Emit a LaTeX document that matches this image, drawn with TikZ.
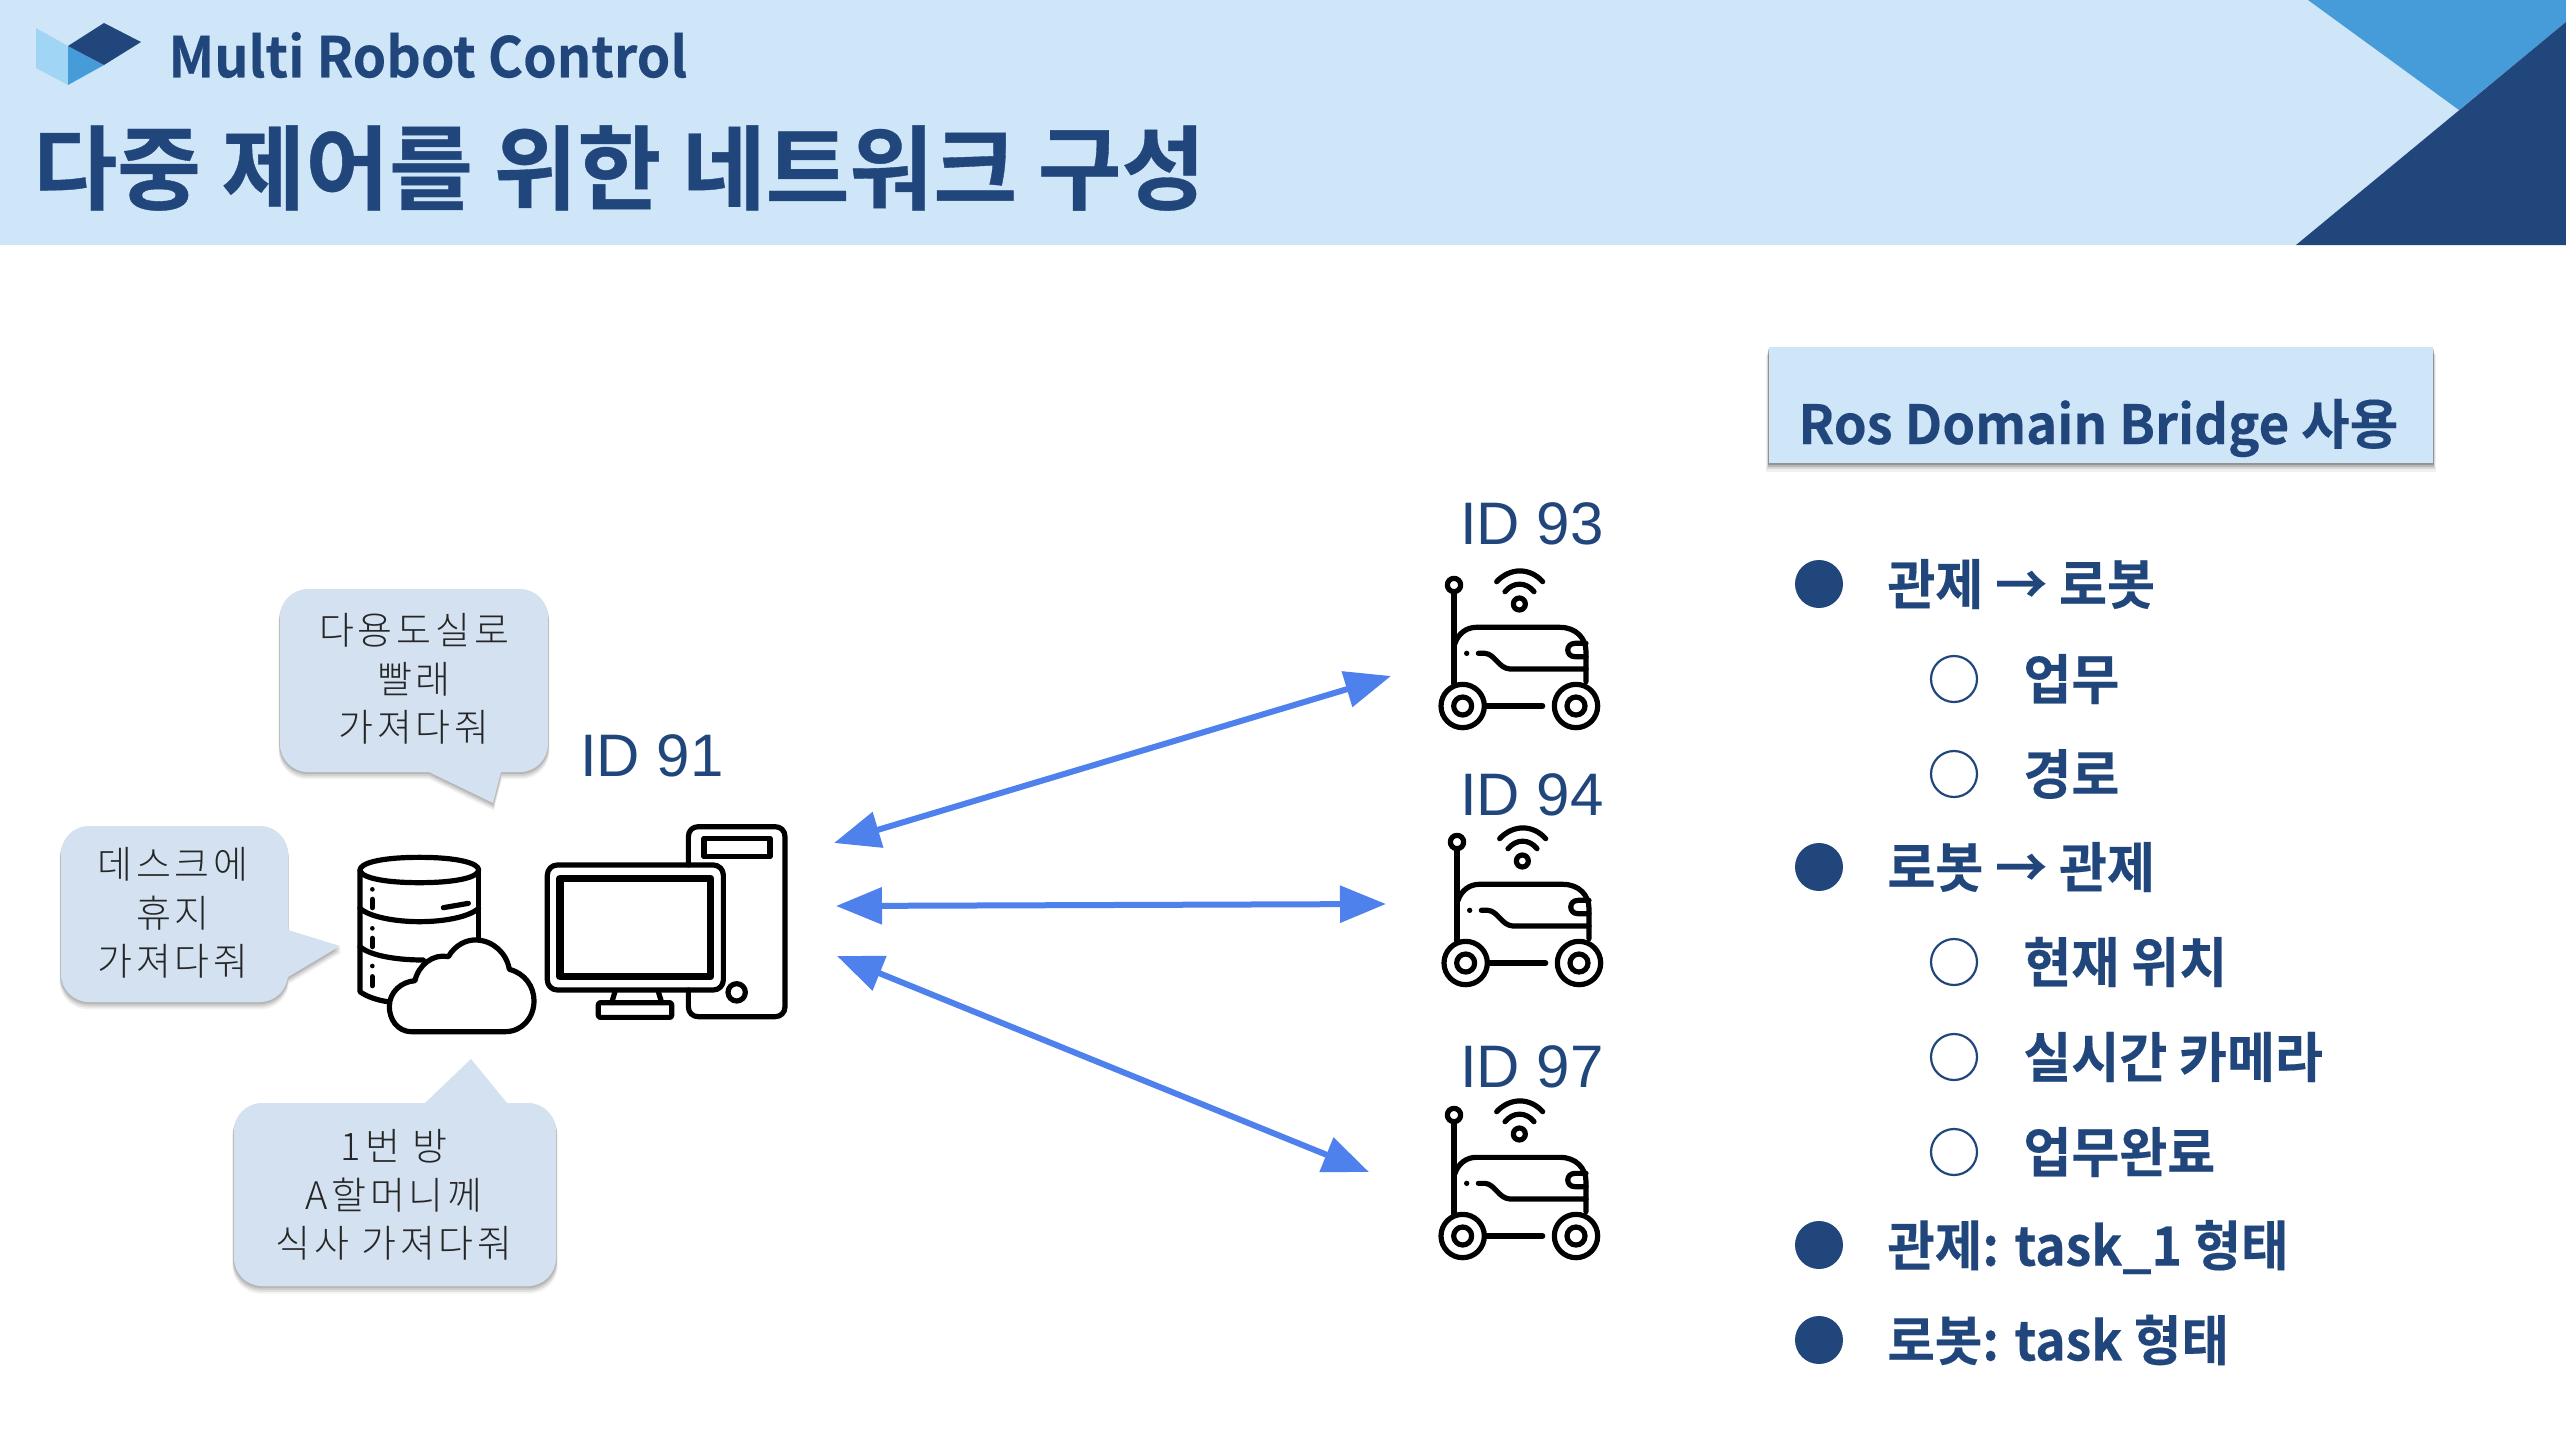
\documentclass[tikz,border=0pt]{standalone}
\usepackage{fontspec}
\usetikzlibrary{arrows.meta,shadows}
\setmainfont{Noto Sans CJK KR}
\newfontfamily\bubfont[LetterSpace=10]{Noto Sans CJK KR Light}
\newfontfamily\idfont{Liberation Sans}
\newfontfamily\subfont[FakeStretch=0.96,FakeBold=0.25]{Noto Sans CJK KR Bold}
\newfontfamily\titlefont[FakeStretch=0.99,FakeBold=0.4]{Noto Sans CJK KR Bold}
\newfontfamily\rosfont[FakeStretch=0.977,FakeBold=0.25]{Noto Sans CJK KR Bold}
\newfontfamily\itemfont[FakeStretch=0.965,FakeBold=0.3]{Noto Sans CJK KR Bold}
\newfontfamily\mixfont[FakeStretch=0.955,FakeBold=0.3]{Noto Sans CJK KR Bold}
\definecolor{hdrbg}{HTML}{CFE6F9}
\definecolor{navy}{HTML}{21467C}
\definecolor{midblue}{HTML}{469CD8}
\definecolor{lightblue}{HTML}{A0D5F5}
\definecolor{bubblefill}{HTML}{D3E1F1}
\definecolor{arrowblue}{HTML}{4F81EC}
\tikzset{
  px/.style={x=0.5pt,y=-0.5pt},
  icon/.style={x=0.16667pt,y=-0.16667pt,line width=2.6pt,draw=black,line cap=round,line join=round},
  softshadow/.style={drop shadow={shadow xshift=0pt,shadow yshift=-0.8pt,shadow scale=1.004,opacity=.10,fill=black},
                     drop shadow={shadow xshift=0pt,shadow yshift=-1.6pt,shadow scale=1.006,opacity=.09,fill=black},
                     drop shadow={shadow xshift=0pt,shadow yshift=-2.4pt,shadow scale=1.008,opacity=.07,fill=black},
                     drop shadow={shadow xshift=0pt,shadow yshift=-3.2pt,shadow scale=1.01,opacity=.05,fill=black}},
  boxshadow/.style={drop shadow={shadow xshift=0pt,shadow yshift=-1.0pt,shadow scale=1.002,opacity=.20,fill=black},
                    drop shadow={shadow xshift=0pt,shadow yshift=-2.0pt,shadow scale=1.004,opacity=.14,fill=black},
                    drop shadow={shadow xshift=0pt,shadow yshift=-3.0pt,shadow scale=1.006,opacity=.10,fill=black},
                    drop shadow={shadow xshift=0pt,shadow yshift=-4.0pt,shadow scale=1.008,opacity=.06,fill=black}},
  bubble/.style={fill=bubblefill,softshadow},
  bubbletext/.style={align=center,font=\bubfont\fontsize{19}{24.2}\selectfont,text=black!85,inner sep=0pt},
  idlabel/.style={font=\idfont\fontsize{30}{36}\selectfont,text=navy,inner sep=0pt},
  itemtext/.style={anchor=west,font=\itemfont\fontsize{27}{32}\selectfont,text=navy,inner sep=0pt},
  mixtext/.style={itemtext,font=\mixfont\fontsize{27}{32}\selectfont},
  dotmark/.style={fill=navy},
  ringmark/.style={draw=navy,line width=1.1pt,fill=white},
  link/.style={draw=arrowblue,line width=3pt,{Triangle[length=23pt,width=18pt,fill=arrowblue]}-{Triangle[length=23pt,width=18pt,fill=arrowblue]}},
  robot/.pic={
    \begin{scope}[icon]
      \draw (162,335) -- (162,612);
      \draw (162,315) circle (20);
      \draw (358,372) circle (18);
      \draw (315,335) .. controls (340,305) and (378,305) .. (402,335);
      \draw (290,305) .. controls (330,262) and (390,262) .. (428,305);
      \draw (165,490) .. controls (175,460) and (200,442) .. (228,442) -- (480,442) .. controls (528,442) and (558,475) .. (558,515) -- (558,605);
      \draw (558,490) -- (525,490) .. controls (496,490) and (496,530) .. (525,530) -- (558,530);
      \fill (200,520) circle (8);
      \draw (235,520) -- (255,520) .. controls (285,522) and (295,565) .. (330,567) -- (558,567);
      \draw (188,678) circle (65);
      \draw (188,678) circle (27);
      \draw (528,678) circle (65);
      \draw (528,678) circle (27);
      \draw (258,678) -- (428,678);
    \end{scope}
  }
}
\begin{document}
\begin{tikzpicture}[px]
\useasboundingbox (0,0) rectangle (2566,1430);
\fill[white] (0,0) rectangle (2566,1430);
% header
\fill[hdrbg] (0,0) rectangle (2566,245);
\fill[midblue] (2308,0) -- (2566,0) -- (2566,22) -- (2459,110) -- cycle;
\fill[navy] (2296,245) -- (2566,245) -- (2566,22) -- cycle;
\fill[lightblue] (36,28) -- (68,46) -- (68,85) -- (36,68) -- cycle;
\fill[midblue] (68,46) -- (104,65) -- (68,85) -- cycle;
\fill[navy] (104,23) -- (141,42) -- (104,65) -- (68,46) -- cycle;
\node[anchor=west,inner sep=0pt,text=navy,font=\subfont\fontsize{28}{32}\selectfont] (sub) at (168,55) {Multi Robot Control};
\node[anchor=west,inner sep=0pt,text=navy,font=\titlefont\fontsize{46}{52}\selectfont] (title) at (33,168) {다중 제어를 위한 네트워크 구성};
% bubbles
\path[bubble,rounded corners=14pt] (280,589) -- (548,589) -- (548,772) [sharp corners] -- (501,772) -- (493,803) -- (429,772) [rounded corners=14pt] -- (280,772) -- cycle;
\path[bubble,rounded corners=14pt] (61,826) -- (288,826) [sharp corners] -- (288,930) -- (340,946) -- (288,977) [rounded corners=14pt] -- (288,1002) -- (61,1002) -- cycle;
\path[bubble,rounded corners=14pt] (234,1286) -- (234,1103) [sharp corners] -- (425,1103) -- (471,1059) -- (507,1103) [rounded corners=14pt] -- (556,1103) -- (556,1286) -- cycle;
\node[bubbletext] (b1) at (414,679) {다용도실로\\빨래\\가져다줘};
\node[bubbletext] (b2) at (173,913) {데스크에\\휴지\\가져다줘};
\node[bubbletext] (b3) at (394,1195) {1번 방\\A할머니께\\식사 가져다줘};
% id labels
\node[idlabel] (id91) at (652,756) {ID 91};
\node[idlabel] (id93) at (1532,524) {ID 93};
\node[idlabel] (id94) at (1532,795) {ID 94};
\node[idlabel] (id97) at (1532,1067) {ID 97};
% server + pc
\begin{scope}[shift={(340,810)},icon]
  \draw (60,180) -- (60,545) .. controls (80,560) and (115,572) .. (150,576);
  \draw (416,180) -- (416,385);
  \draw (238,142) .. controls (120,142) and (60,160) .. (60,180) .. controls (60,200) and (120,218) .. (238,218) .. controls (356,218) and (416,200) .. (416,180) .. controls (416,160) and (356,142) .. cycle;
  \draw (60,295) .. controls (90,322) and (170,335) .. (238,335) .. controls (310,335) and (385,322) .. (416,295);
  \draw (60,410) .. controls (90,437) and (170,450) .. (250,450);
  \foreach \yy in {238,355,468} {\fill (97,\yy) circle (7);}
  \draw (97,268) -- (97,293); \draw (97,385) -- (97,410); \draw (97,500) -- (97,527);
  \draw (310,293) -- (385,280);
  \draw[fill=white] (215,665) .. controls (170,665) and (148,625) .. (148,590) .. controls (148,545) and (185,515) .. (225,512) .. controls (235,465) and (280,430) .. (325,440) .. controls (345,405) and (380,388) .. (410,390) .. controls (460,392) and (500,430) .. (508,478) .. controls (555,490) and (582,530) .. (582,572) .. controls (582,625) and (545,665) .. (495,665) -- cycle;
  % tower
  \draw (1045,165) -- (1045,80) .. controls (1045,62) and (1058,50) .. (1075,50) -- (1305,50) .. controls (1322,50) and (1335,62) .. (1335,80) -- (1335,590) .. controls (1335,608) and (1322,620) .. (1305,620) -- (1075,620) .. controls (1058,620) and (1045,608) .. (1045,590) -- (1045,540);
  \draw (1092,85) rectangle (1290,140);
  \draw (1190,547) circle (26);
  % monitor
  \draw[rounded corners=5pt] (622,165) rectangle (1150,540);
  \draw[line width=3.6pt] (660,205) rectangle (1112,500);
  \draw (825,545) -- (815,578); \draw (955,545) -- (965,578);
  \draw[rounded corners=1pt] (775,578) rectangle (995,622);
\end{scope}
% robots
\pic at (1400,480) {robot};
\pic at (1403,737) {robot};
\pic at (1400,1010) {robot};
% connectors
\coordinate (pcA) at (834,843); \coordinate (r93) at (1391,676);
\coordinate (pcB) at (836,906); \coordinate (r94) at (1386,904);
\coordinate (pcC) at (837,956); \coordinate (r97) at (1369,1172);
\draw[link] (pcA) -- (r93);
\draw[link] (pcB) -- (r94);
\draw[link] (pcC) -- (r97);
% right box
\path[fill=hdrbg,boxshadow] (1769,347) rectangle (2433,463);
\node[anchor=west,inner sep=0pt,text=navy,font=\rosfont\fontsize{27}{32}\selectfont] (ros) at (1798,428) {Ros Domain Bridge 사용};
% list
\foreach \yy in {584,867,1245,1340} {\fill[dotmark] (1819,\yy) circle (24);}
\foreach \yy in {679,774,962,1057,1152} {\draw[ringmark] (1954,\yy) circle (23);}
\node[itemtext] (l1) at (1887,584) {관제 → 로봇};
\node[itemtext] (l2) at (2023,679) {업무};
\node[itemtext] (l3) at (2023,774) {경로};
\node[itemtext] (l4) at (1887,867) {로봇 → 관제};
\node[itemtext] (l5) at (2023,962) {현재 위치};
\node[itemtext] (l6) at (2023,1057) {실시간 카메라};
\node[itemtext] (l7) at (2023,1152) {업무완료};
\node[mixtext] (l8) at (1887,1247) {관제: task\_1 형태};
\node[mixtext] (l9) at (1887,1340) {로봇: task 형태};
\end{tikzpicture}
\end{document}
